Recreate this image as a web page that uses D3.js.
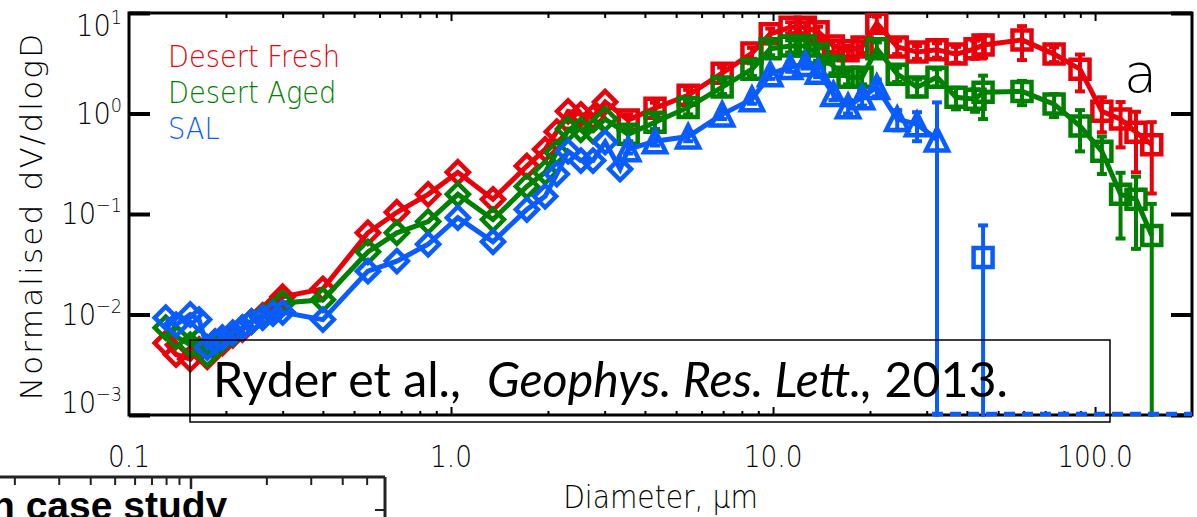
<!DOCTYPE html>
<html>
<head>
<meta charset="utf-8">
<script src="https://d3js.org/d3.v7.min.js"></script>
<style>
  html, body { margin: 0; padding: 0; background: #fff; overflow: hidden; }
  .idl { font-family: 'DejaVu Sans', sans-serif; font-weight: 200; }
</style>
</head>
<body>
<div id="viz"></div>
<script type="text/javascript">
// ---- data ----
// PCASP-range diameters (um), diamonds
var smallD = [0.13, 0.14, 0.155, 0.165, 0.175, 0.185, 0.195, 0.21, 0.225, 0.24, 0.26, 0.28, 0.30,
              0.40, 0.552, 0.679, 0.849, 1.05, 1.35, 1.72, 1.96, 2.13, 2.31, 2.53, 2.76, 3.01];
var blueSmallD = [0.13, 0.14, 0.155, 0.165, 0.175, 0.185, 0.195, 0.21, 0.225, 0.24, 0.26, 0.28, 0.30,
              0.40, 0.552, 0.679, 0.849, 1.05, 1.35, 1.72, 1.96, 2.13, 2.31, 2.53, 2.76, 3.01, 3.35];
// larger diameters (um), squares / triangles
var largeD = [3.55, 4.30, 5.45, 6.95, 8.6, 9.8, 11.3, 12.6, 13.8, 15.4, 17.1, 18.9, 21.0,
              24.3, 28.0, 32.3, 37.0, 42.4, 44.9, 59.3, 74.6, 89.8, 105, 120, 134, 150];
var blueTriD = [3.55, 4.30, 5.45, 6.95, 8.6, 9.8, 11.3, 12.6, 13.8, 15.4, 17.1, 18.9, 21.0,
              24.3, 28.0, 32.3];
var blueBigD = [32.3, 37.0, 42.4, 44.9, 59.3, 74.6, 89.8, 105, 120, 134, 150, 186];

var redSmall = [5.2e-3, 4.0e-3, 3.6e-3, 4.5e-3, 3.8e-3, 4.7e-3, 5.2e-3, 6.2e-3, 7.1e-3, 8.5e-3, 9.8e-3, 1.17e-2, 1.5e-2,
                1.8e-2, 6.5e-2, 0.104, 0.157, 0.26, 0.14, 0.30, 0.44, 0.66, 1.05, 0.98, 0.92, 1.30];
var greenSmall = [7.4e-3, 6.0e-3, 5.0e-3, 5.6e-3, 4.0e-3, 5.0e-3, 5.6e-3, 6.4e-3, 7.4e-3, 8.5e-3, 9.5e-3, 1.07e-2, 1.3e-2,
                1.4e-2, 4.2e-2, 6.5e-2, 8.4e-2, 0.157, 8.8e-2, 0.188, 0.26, 0.41, 0.70, 0.69, 0.67, 0.88];
var blueSmall = [9.3e-3, 7.9e-3, 1.0e-2, 8.9e-3, 4.7e-3, 5.4e-3, 5.9e-3, 6.6e-3, 7.4e-3, 8.5e-3, 9.3e-3, 1.02e-2, 1.05e-2,
                8.9e-3, 2.7e-2, 3.4e-2, 5.0e-2, 9.2e-2, 5.3e-2, 0.111, 0.15, 0.25, 0.42, 0.34, 0.34, 0.52, 0.28];

var redLarge = [0.86, 1.13, 1.52, 2.52, 4.0, 6.2, 7.2, 7.2, 6.5, 4.7, 4.2, 4.6, 7.9,
                4.6, 4.1, 4.3, 3.9, 4.4, 4.8, 5.4, 3.9, 2.76, 1.05, 0.88, 0.65, 0.49];
var redLargeErr = [0.12, 0.15, 0.2, 0.35, 0.5, 0.8, 0.9, 0.9, 0.8, 0.6, 0.5, 0.6, 1.3,
                0.7, 0.6, 0.7, 0.7, 0.9, 1.2, 2.0, 0.65, 1.1, 0.4, 0.42, 0.39, 0.33];
var greenLarge = [0.62, 0.82, 1.15, 1.83, 2.76, 4.4, 4.7, 4.7, 3.9, 2.96, 2.3, 2.3, 4.4,
                2.46, 1.83, 2.3, 1.45, 1.39, 1.63, 1.66, 1.24, 0.75, 0.42, 0.157, 0.14, 0.061];
var greenLargeErr = [0.09, 0.12, 0.17, 0.27, 0.4, 0.6, 0.65, 0.65, 0.55, 0.45, 0.35, 0.35, 0.7,
                0.4, 0.35, 0.45, 0.35, 0.35, 0.75, 0.45, 0.32, 0.33, 0.17, 0.1, 0.095, 0.065];
var blueTri = [0.44, 0.53, 0.59, 0.98, 1.39, 2.46, 2.9, 3.1, 2.6, 1.56, 1.18, 1.45, 1.83,
                0.88, 0.78, 0.55];
var blueTriErr = [0.04, 0.05, 0.06, 0.1, 0.14, 0.25, 0.3, 0.3, 0.3, 0.2, 0.18, 0.25, 0.35,
                0.2, 0.25, 0.74];
var blueBig = [0, 0, 0, 0.037, 0, 0, 0, 0, 0, 0, 0, 0];
var blueBigErr = [0, 0, 0, 0.04, 0, 0, 0, 0, 0, 0, 0, 0];

var seriesNames = ["Desert Fresh", "Desert Aged", "SAL"];
var seriesColors = ["#e8000b", "#008000", "#0a5cff"];

var xTickVals = [0.1, 1, 10, 100];
var xTickLabels = ["0.1", "1.0", "10.0", "100.0"];
var yTickVals = [1e-3, 1e-2, 1e-1, 1, 10];
var yTickExps = ["\u22123", "\u22122", "\u22121", "0", "1"];

// ---- layout ----
var W = 1197, H = 517;
var pl = 129, pr = 1192, pt = 13, pb = 415;
var squeeze = 0.88;   // IDL's vector font is narrower than DejaVu

var svg = d3.select("#viz").append("svg")
    .attr("width", W).attr("height", H);

var x = d3.scaleLog().domain([0.1, 200]).range([pl, pr]);
var y = d3.scaleLog().domain([1e-3, 10]).range([pb, pt]);

svg.append("clipPath").attr("id", "plotclip")
  .append("rect").attr("x", pl).attr("y", pt).attr("width", pr - pl).attr("height", pb - pt + 2);

// minor x ticks
var minorX = [];
[0.1, 1, 10, 100].forEach(function(dec) {
    for (var k = 2; k <= 9; k++) { if (dec * k < 200) minorX.push(dec * k); }
});

var axG = svg.append("g").attr("class", "axes");

function styleAxis(g) {
    g.select(".domain").remove();
    g.selectAll(".tick line").attr("stroke", "#000").attr("stroke-width", 2);
    g.selectAll(".tick text").remove();
}

axG.append("g").attr("transform", "translate(0," + pb + ")")
  .call(d3.axisBottom(x).tickValues(minorX).tickSize(-4).tickFormat("")).call(styleAxis);
axG.append("g").attr("transform", "translate(0," + pb + ")")
  .call(d3.axisBottom(x).tickValues(xTickVals.slice(1)).tickSize(-8).tickFormat("")).call(styleAxis);
axG.append("g").attr("transform", "translate(0," + pt + ")")
  .call(d3.axisTop(x).tickValues(minorX).tickSize(-5).tickFormat("")).call(styleAxis);
axG.append("g").attr("transform", "translate(0," + pt + ")")
  .call(d3.axisTop(x).tickValues(xTickVals.slice(1)).tickSize(-8).tickFormat("")).call(styleAxis);
var yl = axG.append("g").attr("transform", "translate(" + pl + ",0)")
  .call(d3.axisLeft(y).tickValues(yTickVals).tickSize(-21).tickFormat("")).call(styleAxis);
var yr = axG.append("g").attr("transform", "translate(" + pr + ",0)")
  .call(d3.axisRight(y).tickValues(yTickVals).tickSize(-21).tickFormat("")).call(styleAxis);
yl.selectAll(".tick line").attr("stroke-width", 4);
yr.selectAll(".tick line").attr("stroke-width", 4);

axG.append("rect")
  .attr("x", pl).attr("y", pt).attr("width", pr - pl).attr("height", pb - pt)
  .attr("fill", "none").attr("stroke", "#000").attr("stroke-width", 3);

// x tick labels
svg.append("g").attr("class", "idl")
  .selectAll("text").data(xTickVals).enter().append("text")
  .attr("transform", function(d) { return "translate(" + x(d) + ",467) scale(" + squeeze + ",1)"; })
  .attr("text-anchor", "middle")
  .attr("font-size", 30)
  .attr("fill", "#000")
  .text(function(d, i) { return xTickLabels[i]; });

// y tick labels 10^n
var ylab = svg.append("g").attr("class", "idl")
  .selectAll("text").data(yTickVals).enter().append("text")
  .attr("transform", function(d) {
      return "translate(122," + (Math.min(Math.max(y(d), 26), 403) + 10) + ") scale(" + squeeze + ",1)";
  })
  .attr("text-anchor", "end")
  .attr("font-size", 31)
  .attr("fill", "#000");
ylab.append("tspan").text("10");
ylab.append("tspan").attr("font-size", 20).attr("dy", -12)
  .text(function(d, i) { return yTickExps[i]; });

// axis titles
svg.append("text").attr("class", "idl")
  .attr("transform", "translate(" + ((pl + pr) / 2) + ",508) scale(" + squeeze + ",1)")
  .attr("text-anchor", "middle").attr("font-size", 32)
  .text("Diameter, \u03bcm");

svg.append("text").attr("class", "idl")
  .attr("transform", "translate(42,216) rotate(-90)")
  .attr("text-anchor", "middle").attr("font-size", 31)
  .attr("letter-spacing", 2.2)
  .text("Normalised dV/dlogD");

// ---- data ----
var plot = svg.append("g").attr("clip-path", "url(#plotclip)");

var line = d3.line()
  .x(function(d) { return x(d[0]); })
  .y(function(d) { return y(d[1]); });

function diamond(s) { return "M0," + (-s) + "L" + s + ",0L0," + s + "L" + (-s) + ",0Z"; }
function square(s) { return "M" + (-s) + "," + (-s) + "H" + s + "V" + s + "H" + (-s) + "Z"; }
function triangle(s) { return "M" + (-s) + "," + s + "H" + s + "L0," + (-s) + "Z"; }

function markers(g, D, V, shape, col) {
    var pts = D.map(function(d, i) { return [d, V[i]]; }).filter(function(p) { return p[1] > 0; });
    g.selectAll(null).data(pts).enter().append("path")
      .attr("transform", function(p) { return "translate(" + x(p[0]) + "," + y(p[1]) + ")"; })
      .attr("d", shape)
      .attr("fill", "none").attr("stroke", col).attr("stroke-width", 4.5)
      .attr("stroke-linejoin", "miter");
}

function errbars(g, D, V, E, col) {
    var pts = D.map(function(d, i) { return [d, V[i], E[i]]; }).filter(function(p) { return p[2] > 0; });
    var eb = g.selectAll(null).data(pts).enter().append("g")
      .attr("stroke", col).attr("stroke-width", 4).attr("fill", "none");
    eb.append("line")
      .attr("x1", function(p) { return x(p[0]); }).attr("x2", function(p) { return x(p[0]); })
      .attr("y1", function(p) { return y(p[1] + p[2]); })
      .attr("y2", function(p) { return p[1] - p[2] > 0 ? y(p[1] - p[2]) : pb + 5; });
    eb.append("line")
      .attr("x1", function(p) { return x(p[0]) - 5; }).attr("x2", function(p) { return x(p[0]) + 5; })
      .attr("y1", function(p) { return y(p[1] + p[2]); }).attr("y2", function(p) { return y(p[1] + p[2]); });
    eb.filter(function(p) { return p[1] - p[2] > 0; }).append("line")
      .attr("x1", function(p) { return x(p[0]) - 5; }).attr("x2", function(p) { return x(p[0]) + 5; })
      .attr("y1", function(p) { return y(p[1] - p[2]); }).attr("y2", function(p) { return y(p[1] - p[2]); });
}

function zip(D, V) { return D.map(function(d, i) { return [d, V[i]]; }); }

// Desert Fresh
var gR = plot.append("g");
gR.append("path").datum(zip(smallD, redSmall).concat(zip(largeD, redLarge)))
  .attr("d", line).attr("fill", "none").attr("stroke", seriesColors[0]).attr("stroke-width", 5);
markers(gR, smallD, redSmall, diamond(11), seriesColors[0]);
markers(gR, largeD, redLarge, square(9.5), seriesColors[0]);
errbars(gR, largeD, redLarge, redLargeErr, seriesColors[0]);

// Desert Aged
var gG = plot.append("g");
gG.append("path").datum(zip(smallD, greenSmall).concat(zip(largeD, greenLarge)))
  .attr("d", line).attr("fill", "none").attr("stroke", seriesColors[1]).attr("stroke-width", 5);
markers(gG, smallD, greenSmall, diamond(11), seriesColors[1]);
markers(gG, largeD, greenLarge, square(9.5), seriesColors[1]);
errbars(gG, largeD, greenLarge, greenLargeErr, seriesColors[1]);

// SAL
var gB = plot.append("g");
gB.append("path").datum(zip(blueSmallD, blueSmall).concat(zip(blueTriD, blueTri)))
  .attr("d", line).attr("fill", "none").attr("stroke", seriesColors[2]).attr("stroke-width", 5);
markers(gB, blueSmallD, blueSmall, diamond(11), seriesColors[2]);
markers(gB, blueTriD, blueTri, triangle(11), seriesColors[2]);
errbars(gB, blueTriD, blueTri, blueTriErr, seriesColors[2]);
markers(gB, blueBigD, blueBig, square(9.5), seriesColors[2]);
errbars(gB, blueBigD, blueBig, blueBigErr, seriesColors[2]);
// zero-valued SAL bins sit on the lower axis as a dashed run
var zeroD = blueBigD.filter(function(d, i) { return blueBig[i] === 0; });
gB.append("line")
  .attr("x1", x(d3.min(zeroD)) - 5).attr("x2", pr)
  .attr("y1", pb - 1).attr("y2", pb - 1)
  .attr("stroke", seriesColors[2]).attr("stroke-width", 4.5)
  .attr("stroke-dasharray", "11,7");

// legend
svg.append("g").attr("class", "idl")
  .selectAll("text").data(seriesNames).enter().append("text")
  .attr("transform", function(d, i) { return "translate(168," + (67 + i * 36) + ") scale(" + squeeze + ",1)"; })
  .attr("font-size", 31)
  .attr("fill", function(d, i) { return seriesColors[i]; })
  .text(function(d) { return d; });

// panel letter
svg.append("text").attr("class", "idl")
  .attr("x", 1124).attr("y", 92).attr("font-size", 54)
  .text("a");

// citation box
svg.append("rect").attr("x", 190).attr("y", 340).attr("width", 920).attr("height", 82)
  .attr("fill", "none").attr("stroke", "#000").attr("stroke-width", 1.5);
var cite = svg.append("text")
  .attr("x", 213).attr("y", 397)
  .attr("font-family", "Lato, 'Open Sans', sans-serif")
  .attr("font-size", 46).attr("fill", "#000");
cite.append("tspan").text("Ryder et al.,");
cite.append("tspan").attr("dx", 26).attr("font-style", "italic").text("Geophys. Res. Lett.,");
cite.append("tspan").attr("dx", 12).text("2013.");
var cw = cite.node().getBBox().width;
if (cw > 0) cite.attr("font-size", 46 * 797 / cw);

// partial neighbouring panel at bottom-left
var nb = svg.append("g");
var nbx = d3.scaleLog().domain([0.1, 1]).range([-61, 191]);
var nbMinor = [0.2, 0.3, 0.4, 0.5, 0.6, 0.7, 0.8, 0.9, 2, 3, 4, 5];
nb.append("line").attr("x1", 0).attr("x2", 385).attr("y1", 477).attr("y2", 477)
  .attr("stroke", "#222").attr("stroke-width", 3);
nb.append("line").attr("x1", 385).attr("x2", 385).attr("y1", 477).attr("y2", H)
  .attr("stroke", "#222").attr("stroke-width", 3);
nb.selectAll(null).data(nbMinor).enter().append("line")
  .attr("x1", function(d) { return nbx(d); }).attr("x2", function(d) { return nbx(d); })
  .attr("y1", 477).attr("y2", 485).attr("stroke", "#222").attr("stroke-width", 2);
nb.append("line").attr("x1", nbx(1)).attr("x2", nbx(1)).attr("y1", 477).attr("y2", 489)
  .attr("stroke", "#222").attr("stroke-width", 2.5);
nb.append("line").attr("x1", 375).attr("x2", 385).attr("y1", 510).attr("y2", 510)
  .attr("stroke", "#222").attr("stroke-width", 2);
nb.append("text").attr("x", -9).attr("y", 519)
  .attr("font-family", "'Liberation Sans', Arial, sans-serif")
  .attr("font-weight", "bold").attr("font-size", 39).attr("fill", "#000")
  .text("n case study");
</script>
</body>
</html>
